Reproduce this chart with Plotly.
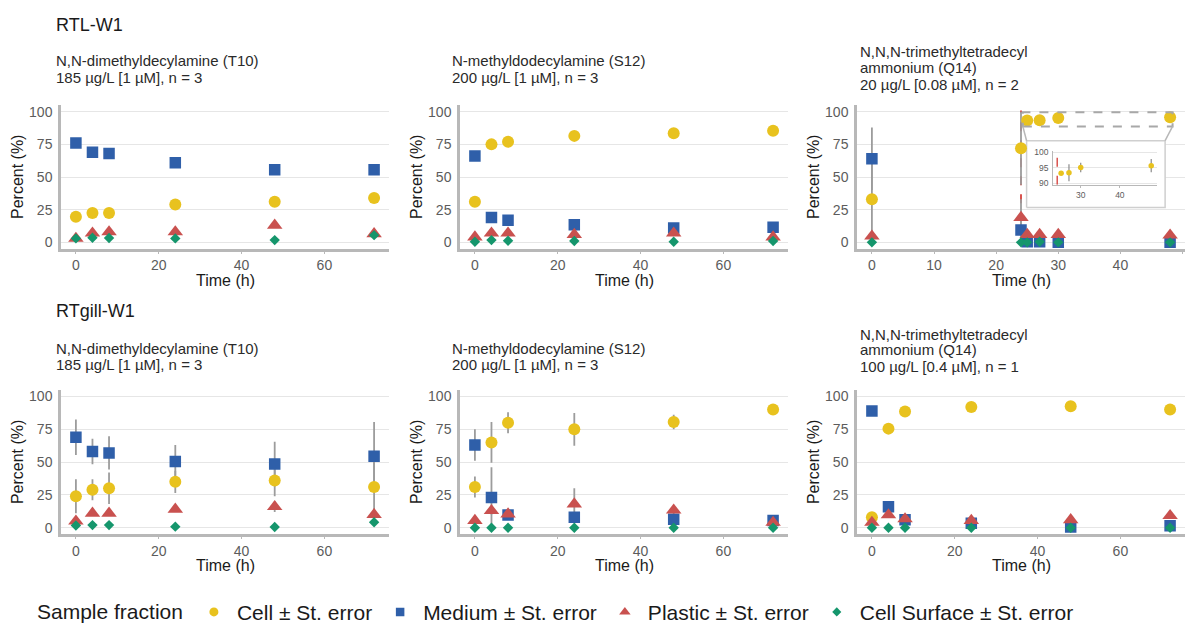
import plotly.graph_objects as go

W, H = 1186, 633

# ---------------- data ----------------
TIMES_72 = [0, 4, 8, 24, 48, 72]
TIMES_Q14_RTL = [0, 24, 25, 27, 30, 48]
TIMES_INSET = [25, 27, 30, 48]
DOSE_TIME = 24

LEGEND_NAMES = ["Cell ± St. error", "Medium ± St. error",
                "Plastic ± St. error", "Cell Surface ± St. error"]

# RTL-W1 - T10
rtl_t10_cell = [19.5, 22.5, 22.5, 29, 31, 34]
rtl_t10_medium = [76, 69, 68, 61, 55.5, 55.5]
rtl_t10_plastic = [3, 7, 8, 8, 13, 6.5]
rtl_t10_surface = [3, 3.5, 3.3, 3, 1.7, 5.5]
rtl_t10_cell_se = [1, 1, 1, 1.5, 1, 1]
rtl_t10_medium_se = [1.5, 1.2, 1, 1.5, 1.2, 1.5]
rtl_t10_plastic_se = [0.5, 1, 1, 1, 1.5, 1]
rtl_t10_surface_se = [0.3, 0.3, 0.3, 0.3, 0.3, 0.5]

# RTL-W1 - S12
rtl_s12_cell = [31, 75, 77, 81.5, 83.5, 85.5]
rtl_s12_medium = [66, 19, 17, 13.5, 11, 11.5]
rtl_s12_plastic = [4, 7, 7, 6, 7, 4]
rtl_s12_surface = [0.5, 1.7, 1.2, 1, 0.5, 1]
rtl_s12_cell_se = [1, 3, 1, 1, 3, 1]
rtl_s12_medium_se = [1, 1, 1, 1, 1, 1]
rtl_s12_plastic_se = [0.5, 1, 1, 1, 1, 1]
rtl_s12_surface_se = [0.2, 0.2, 0.2, 0.2, 0.2, 0.2]

# RTL-W1 - Q14
rtl_q14_cell = [33, 72, 93.3, 93.4, 95.1, 95.7]
rtl_q14_medium = [64, 9.4, 0.5, 0.5, 0, 0]
rtl_q14_plastic = [4.7, 19, 6, 6, 6, 5.5]
rtl_q14_surface = [0, 0, 0, 0.5, 0, 0]
rtl_q14_cell_se = [30, 28, 0.3, 2.7, 1.5, 2.1]
rtl_q14_medium_se = [24, 10, 0.2, 0.2, 0, 0]
rtl_q14_plastic_se = [3, 14, 1, 1, 1, 1]
rtl_q14_surface_se = [0, 0, 0, 0, 0, 0]

# RTgill-W1 - T10
gill_t10_cell = [24, 29, 30, 35, 36, 31]
gill_t10_medium = [69, 58, 57, 50.5, 48.5, 54.5]
gill_t10_plastic = [5, 11, 11, 14, 16, 10]
gill_t10_surface = [1.7, 2, 2, 0.8, 0.5, 4.2]
gill_t10_cell_se = [13, 8, 12, 8.5, 12, 20]
gill_t10_medium_se = [13.5, 9.7, 12.7, 12.5, 17, 26]
gill_t10_plastic_se = [2, 2, 2, 2, 4, 3]
gill_t10_surface_se = [0.5, 0.5, 0.5, 0.5, 0.5, 1]

# RTgill-W1 - S12
gill_s12_cell = [31, 65, 80, 75, 80.5, 90]
gill_s12_medium = [63, 23, 9.7, 8, 6.5, 5.5]
gill_s12_plastic = [5.5, 13, 10.4, 18, 13.4, 4]
gill_s12_surface = [0, 0, 0, 0, 0, 0]
gill_s12_cell_se = [8, 15.5, 8, 12.5, 5.5, 0.5]
gill_s12_medium_se = [12, 23, 2, 1, 1, 1]
gill_s12_plastic_se = [1, 3, 4, 12, 3, 1]
gill_s12_surface_se = [0, 0, 0, 0, 0, 0]

# RTgill-W1 - Q14 (n = 1, no error)
gill_q14_cell = [8, 75.5, 88.5, 92, 92.5, 90]
gill_q14_medium = [89, 16, 6, 3.5, 0.5, 1.5]
gill_q14_plastic = [4, 9.7, 6.7, 5.5, 6, 9.2]
gill_q14_surface = [0, 0, 0, 0, 0, 0]

ROW_TITLES = ["RTL-W1", "RTgill-W1"]
SUBTITLES = [
    ["N,N-dimethyldecylamine (T10)", "185 µg/L [1 µM], n = 3"],
    ["N-methyldodecylamine (S12)", "200 µg/L [1 µM], n = 3"],
    ["N,N,N-trimethyltetradecyl", "ammonium (Q14)", "20 µg/L [0.08 µM], n = 2"],
    ["N,N-dimethyldecylamine (T10)", "185 µg/L [1 µM], n = 3"],
    ["N-methyldodecylamine (S12)", "200 µg/L [1 µM], n = 3"],
    ["N,N,N-trimethyltetradecyl", "ammonium (Q14)", "100 µg/L [0.4 µM], n = 1"],
]
Y_TICKS = [0, 25, 50, 75, 100]
X_TICKS_72 = [0, 20, 40, 60]
X_TICKS_48 = [0, 10, 20, 30, 40, 50]
INSET_X_TICKS = [30, 40]
INSET_Y_TICKS = [90, 95, 100]

# ---------------- styles ----------------
FONT = "Liberation Sans, Arial, sans-serif"
COLORS = ["#E8C21E", "#2F5FA9", "#C9514F", "#15966C"]
SYMBOLS = ["circle", "square", "triangle-up", "diamond"]
SIZES = [12, 11.5, 13.5, 8]
LEGEND_SIZES = [9, 8.5, 10, 7]
ERR_COLOR = "#9c9c9c"
AXIS_COLOR = "#b8b8b8"
GRID_COLOR = "#e6e6e6"
TICK_COLOR = "#5c5c5c"
RED = "#D9534F"


def px(x):
    return x / W


def py(y):
    return 1 - y / H


COL_PX = [(61, 389), (460, 788), (857, 1185)]
ROW_PX = [(103.3, 250), (394, 541.4)]

panels = [
    dict(times=TIMES_72, vals=[rtl_t10_cell, rtl_t10_medium, rtl_t10_plastic, rtl_t10_surface],
         se=[rtl_t10_cell_se, rtl_t10_medium_se, rtl_t10_plastic_se, rtl_t10_surface_se],
         xr=[-3.6, 75.6], xt=X_TICKS_72),
    dict(times=TIMES_72, vals=[rtl_s12_cell, rtl_s12_medium, rtl_s12_plastic, rtl_s12_surface],
         se=[rtl_s12_cell_se, rtl_s12_medium_se, rtl_s12_plastic_se, rtl_s12_surface_se],
         xr=[-3.6, 75.6], xt=X_TICKS_72),
    dict(times=TIMES_Q14_RTL, vals=[rtl_q14_cell, rtl_q14_medium, rtl_q14_plastic, rtl_q14_surface],
         se=[rtl_q14_cell_se, rtl_q14_medium_se, rtl_q14_plastic_se, rtl_q14_surface_se],
         xr=[-2.4, 50.4], xt=X_TICKS_48),
    dict(times=TIMES_72, vals=[gill_t10_cell, gill_t10_medium, gill_t10_plastic, gill_t10_surface],
         se=[gill_t10_cell_se, gill_t10_medium_se, gill_t10_plastic_se, gill_t10_surface_se],
         xr=[-3.6, 75.6], xt=X_TICKS_72),
    dict(times=TIMES_72, vals=[gill_s12_cell, gill_s12_medium, gill_s12_plastic, gill_s12_surface],
         se=[gill_s12_cell_se, gill_s12_medium_se, gill_s12_plastic_se, gill_s12_surface_se],
         xr=[-3.6, 75.6], xt=X_TICKS_72),
    dict(times=TIMES_72, vals=[gill_q14_cell, gill_q14_medium, gill_q14_plastic, gill_q14_surface],
         se=None, xr=[-3.6, 75.6], xt=X_TICKS_72),
]

fig = go.Figure()
layout = dict(
    width=W, height=H, autosize=False,
    margin=dict(l=0, r=0, t=0, b=0),
    paper_bgcolor="white", plot_bgcolor="white",
    font=dict(family=FONT, color="#1a1a1a"),
    showlegend=True,
)

annotations = []
shapes = []

# zoom box geometry in panel 3 data units
ZOOM_RECT = dict(x0=24.3, x1=48.4, y0=88.7, y1=99.5)
INSET_BOX = dict(x0=24.9, x1=47.2, y0=26.7, y1=77.8)

for i, p in enumerate(panels):
    r, c = divmod(i, 3)
    xa = "x" if i == 0 else f"x{i+1}"
    ya = "y" if i == 0 else f"y{i+1}"
    xkey = "xaxis" if i == 0 else f"xaxis{i+1}"
    ykey = "yaxis" if i == 0 else f"yaxis{i+1}"
    x0p, x1p = COL_PX[c]
    y0p, y1p = ROW_PX[r]
    layout[xkey] = dict(
        domain=[px(x0p), px(x1p)], anchor=ya, range=p["xr"], tickvals=p["xt"],
        showgrid=False, zeroline=False, showline=True, linecolor=AXIS_COLOR, linewidth=2.5,
        ticks="outside", ticklen=2, tickwidth=1.2, tickcolor=AXIS_COLOR,
        tickfont=dict(size=14, color=TICK_COLOR, family=FONT),
    )
    layout[ykey] = dict(
        domain=[py(y1p), py(y0p)], anchor=xa, range=[-5, 105], tickvals=Y_TICKS,
        showgrid=True, gridcolor=GRID_COLOR, gridwidth=1.3, zeroline=False,
        showline=True, linecolor=AXIS_COLOR, linewidth=2.5,
        ticks="outside", ticklen=3, tickwidth=1.2, tickcolor="rgba(0,0,0,0)",
        tickfont=dict(size=14, color=TICK_COLOR, family=FONT),
    )

    if i == 2:
        # white inset background box
        fig.add_trace(go.Scatter(
            x=[INSET_BOX["x0"], INSET_BOX["x1"], INSET_BOX["x1"], INSET_BOX["x0"], INSET_BOX["x0"]],
            y=[INSET_BOX["y0"], INSET_BOX["y0"], INSET_BOX["y1"], INSET_BOX["y1"], INSET_BOX["y0"]],
            mode="lines", fill="toself", fillcolor="white",
            line=dict(color="#cfcfcf", width=1.5), xaxis=xa, yaxis=ya,
            showlegend=False, hoverinfo="skip"))
        # dosing reference line
        fig.add_trace(go.Scatter(
            x=[DOSE_TIME, DOSE_TIME], y=[30, 101], mode="lines",
            line=dict(color=RED, width=2, dash="dash"), xaxis=xa, yaxis=ya,
            showlegend=False, hoverinfo="skip"))

    # error bars first (below markers)
    if p["se"] is not None:
        for k in range(4):
            fig.add_trace(go.Scatter(
                x=p["times"], y=p["vals"][k], mode="markers",
                marker=dict(size=1, color="rgba(0,0,0,0)"),
                error_y=dict(type="data", array=p["se"][k], width=0,
                             color=ERR_COLOR, thickness=1.8),
                xaxis=xa, yaxis=ya, showlegend=False, hoverinfo="skip"))
    for k in range(4):
        fig.add_trace(go.Scatter(
            x=p["times"], y=p["vals"][k], mode="markers", name=LEGEND_NAMES[k],
            marker=dict(symbol=SYMBOLS[k], size=SIZES[k], color=COLORS[k], line=dict(width=0)),
            xaxis=xa, yaxis=ya, showlegend=False))

    # axis titles
    annotations.append(dict(
        text="Percent (%)", textangle=-90, xref="paper", yref="paper",
        x=px(x0p - 44), y=py((y0p + y1p) / 2), xanchor="center", yanchor="middle",
        showarrow=False, font=dict(size=16, color="#1a1a1a", family=FONT)))
    annotations.append(dict(
        text="Time (h)", xref="paper", yref="paper",
        x=px((x0p + x1p) / 2), y=py(y1p + 32), xanchor="center", yanchor="middle",
        showarrow=False, font=dict(size=16, color="#1a1a1a", family=FONT)))

# legend-only entries (smaller symbols, as in the reference key)
for k in range(4):
    fig.add_trace(go.Scatter(
        x=[None], y=[None], mode="markers", name=LEGEND_NAMES[k],
        marker=dict(symbol=SYMBOLS[k], size=LEGEND_SIZES[k], color=COLORS[k]),
        showlegend=True, legendrank=k + 1))

# panel 3 zoom rectangle and connectors
shapes.append(dict(type="rect", xref="x3", yref="y3", **ZOOM_RECT,
                   line=dict(color="#a8a8a8", width=2, dash="dash"), layer="above"))
shapes.append(dict(type="line", xref="x3", yref="y3",
                   x0=ZOOM_RECT["x0"], y0=ZOOM_RECT["y0"], x1=INSET_BOX["x0"], y1=INSET_BOX["y1"],
                   line=dict(color="#b8b8b8", width=1.5)))
shapes.append(dict(type="line", xref="x3", yref="y3",
                   x0=ZOOM_RECT["x1"], y0=ZOOM_RECT["y0"], x1=INSET_BOX["x1"], y1=INSET_BOX["y1"],
                   line=dict(color="#b8b8b8", width=1.5)))

# ---------------- inset ----------------
layout["xaxis7"] = dict(
    domain=[px(1053.3), px(1156.7)], anchor="y7", range=[23, 49.4], tickvals=INSET_X_TICKS,
    showgrid=False, zeroline=False, showline=True, linecolor=AXIS_COLOR, linewidth=1.3,
    ticks="outside", ticklen=2, tickcolor=AXIS_COLOR,
    tickfont=dict(size=8.5, color=TICK_COLOR, family=FONT))
layout["yaxis7"] = dict(
    domain=[py(184.5), py(150)], anchor="x7", range=[89.6, 100.4], tickvals=INSET_Y_TICKS,
    showgrid=True, gridcolor=GRID_COLOR, gridwidth=1, zeroline=False,
    showline=True, linecolor=AXIS_COLOR, linewidth=1.3,
    ticks="outside", ticklen=2, tickcolor="rgba(0,0,0,0)",
    tickfont=dict(size=8.5, color=TICK_COLOR, family=FONT))
fig.add_trace(go.Scatter(
    x=[DOSE_TIME, DOSE_TIME], y=[89.6, 100.4], mode="lines",
    line=dict(color=RED, width=1.5, dash="dash"), xaxis="x7", yaxis="y7",
    showlegend=False, hoverinfo="skip"))
fig.add_trace(go.Scatter(
    x=TIMES_INSET, y=rtl_q14_cell[2:], mode="markers",
    marker=dict(size=5.5, color=COLORS[0]),
    error_y=dict(type="data", array=rtl_q14_cell_se[2:], width=0, color="#8a8a8a", thickness=1.2),
    xaxis="x7", yaxis="y7", showlegend=False, hoverinfo="skip"))

# ---------------- titles ----------------
ROW_TITLE_Y = [21, 313]
SUB_Y_2 = [[58, 75], [352, 368]]
SUB_Y_3 = [[49, 65, 82], [337, 353, 370]]
SUB_X = [54, 450, 858]
for r in range(2):
    annotations.append(dict(
        text=ROW_TITLES[r], xref="paper", yref="paper", x=px(54), y=py(ROW_TITLE_Y[r]),
        xanchor="left", yanchor="middle", showarrow=False,
        font=dict(size=18, color="#1a1a1a", family=FONT)))
    for c in range(3):
        lines = SUBTITLES[r * 3 + c]
        ys = SUB_Y_3[r] if len(lines) == 3 else SUB_Y_2[r]
        for t, yy in zip(lines, ys):
            annotations.append(dict(
                text=t, xref="paper", yref="paper", x=px(SUB_X[c]), y=py(yy),
                xanchor="left", yanchor="middle", showarrow=False,
                font=dict(size=15, color="#2a2a2a", family=FONT)))

layout["annotations"] = annotations
layout["shapes"] = shapes
layout["legend"] = dict(
    orientation="h", x=px(35), xanchor="left", y=py(621), yanchor="middle",
    title=dict(text="Sample fraction", side="left", font=dict(size=21, color="#1a1a1a", family=FONT)),
    font=dict(size=21, color="#1a1a1a", family=FONT), bgcolor="rgba(0,0,0,0)",
    itemsizing="trace", itemwidth=36, traceorder="normal")

fig.update_layout(**layout)
fig.write_html("out.html")
